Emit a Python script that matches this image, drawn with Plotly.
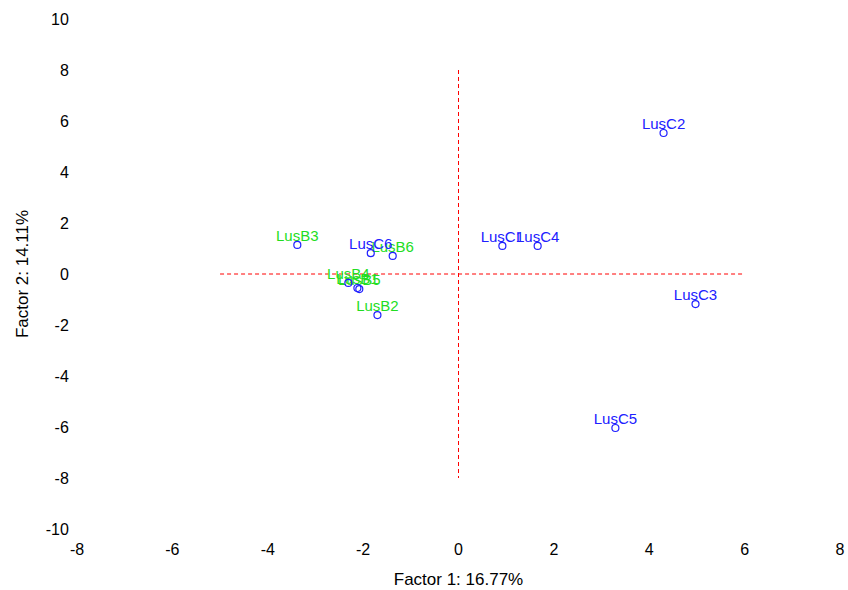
import plotly.graph_objects as go

# === Data (factor scores) ===
labels = ["LusB1", "LusB2", "LusB3", "LusB4", "LusB5", "LusB6",
          "LusC1", "LusC2", "LusC3", "LusC4", "LusC5", "LusC6"]
factor1 = [-2.12, -1.70, -3.38, -2.31, -2.08, -1.38,
           0.92, 4.30, 4.97, 1.66, 3.29, -1.84]
factor2 = [-0.55, -1.61, 1.14, -0.35, -0.59, 0.71,
           1.10, 5.53, -1.18, 1.10, -6.04, 0.82]
groups = ["B"] * 6 + ["C"] * 6

# axis ticks (plain hyphen minus, like the original)
x_ticks = [-8, -6, -4, -2, 0, 2, 4, 6, 8]
y_ticks = [-10, -8, -6, -4, -2, 0, 2, 4, 6, 8, 10]

# reference lines through origin
h_line_x = [-5, 6]
v_line_y = [8, -8]

group_colors = {"B": "#22dd22", "C": "#2020ff"}
font_family = "Liberation Sans, Arial, sans-serif"

fig = go.Figure()

# labels, coloured by group
for g in ["B", "C"]:
    idx = [i for i, gg in enumerate(groups) if gg == g]
    fig.add_trace(go.Scatter(
        x=[factor1[i] for i in idx], y=[factor2[i] for i in idx],
        mode="text",
        text=[labels[i] for i in idx],
        textposition="top center",
        textfont=dict(color=group_colors[g], size=15, family=font_family),
        hoverinfo="skip",
        showlegend=False
    ))

# points (all drawn as open blue circles)
fig.add_trace(go.Scatter(
    x=factor1, y=factor2,
    mode="markers",
    marker=dict(symbol="circle-open", size=7, color="#2020ff", line=dict(width=1.2)),
    text=labels,
    showlegend=False
))

# dashed red reference lines
fig.add_shape(type="line", x0=h_line_x[0], x1=h_line_x[1], y0=0, y1=0,
              line=dict(color="red", width=1, dash="4px,3px"), layer="below")
fig.add_shape(type="line", x0=0, x1=0, y0=v_line_y[0], y1=v_line_y[1],
              line=dict(color="red", width=1, dash="4px,3px"), layer="below")

# === Layout ===
fig.update_layout(
    width=848, height=590,
    margin=dict(l=77, r=8, t=19, b=61),
    plot_bgcolor="white",
    paper_bgcolor="white",
    font=dict(family=font_family, size=14, color="black"),
    showlegend=False
)

fig.update_xaxes(
    range=[-8, 8], tickvals=x_ticks, ticktext=[str(v) for v in x_ticks],
    showgrid=False, zeroline=False, showline=False, automargin=False,
    ticks="outside", ticklen=6, tickcolor="white", ticklabeloverflow="allow",
    title_text="Factor 1: 16.77%", title_standoff=15,
    tickfont=dict(size=16)
)

fig.update_yaxes(
    range=[-10, 10], tickvals=y_ticks, ticktext=[str(v) for v in y_ticks],
    showgrid=False, zeroline=False, showline=False, automargin=False,
    ticks="outside", ticklen=4, tickcolor="white",
    title_text="Factor 2: 14.11%", title_standoff=12,
    tickfont=dict(size=16)
)

# drop the page's default body margin so the figure fills the window
fig.write_html("out.html", config={"displayModeBar": False},
               post_script="document.body.style.margin = '0';")
